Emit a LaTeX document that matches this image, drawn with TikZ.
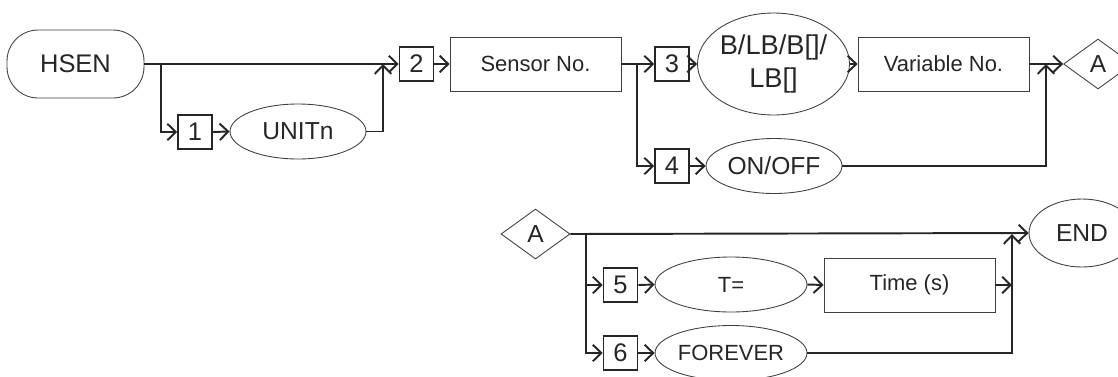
\documentclass[tikz,border=0pt]{standalone}
\usepackage{fontspec}
\setmainfont{Liberation Sans}
\usepackage{tikz}
\usetikzlibrary{arrows.meta,shapes.geometric}

\begin{document}
\begin{tikzpicture}[
    x=0.02cm, y=-0.02cm,
    line/.style={line width=1.1pt, draw=black!85},
    numbox/.style={draw=black!85, line width=0.9pt, minimum width=0.68cm, minimum height=0.68cm, inner sep=0pt, font=\fontsize{14.5}{16}\selectfont},
    pbox/.style={draw=black!75, line width=0.5pt, minimum width=3.42cm, minimum height=1.08cm, inner sep=0pt, font=\fontsize{12.5}{14}\selectfont},
    oval/.style={draw=black!75, line width=0.5pt, ellipse, minimum width=2.72cm, minimum height=1.1cm, inner sep=0pt, font=\fontsize{14}{16}\selectfont},
    conn/.style={diamond, draw=black!75, line width=0.5pt, minimum width=1.38cm, minimum height=1.0cm, aspect=1.4, inner sep=0pt, font=\fontsize{14}{16}\selectfont},
    >={Straight Barb[length=1.7mm, width=3.3mm]}
  ]
  \useasboundingbox (0,0) rectangle (1118,376);
  \clip (0,0) rectangle (1118,376);
  \color{black!85}

  % first row
  \node[draw=black!75, line width=0.5pt, rounded corners=0.62cm, minimum width=2.74cm, minimum height=1.36cm,
        inner sep=0pt, font=\fontsize{14.5}{16}\selectfont] (hsen) at (75.5,64) {HSEN};
  \node[numbox] (one) at (195,132) {1};
  \node[oval] (unitn) at (298,131.5) {UNITn};
  \node[numbox] (two) at (416.5,64) {2};
  \node[pbox] (sensor) at (535.5,64) {Sensor No.};
  \node[numbox] (three) at (672,64) {3};
  \node[numbox] (four) at (672,166) {4};
  \node[oval, minimum width=2.74cm, minimum height=2.04cm, align=center,
        font=\fontsize{15.5}{19}\selectfont] (bits) at (773.5,64) {B/LB/B[]/\\LB[]};
  \node[oval] (onoff) at (774,166) {ON/OFF};
  \node[pbox] (varno) at (943.5,64) {Variable No.};
  \node[conn] (aout) at (1098,64) {A};

  \coordinate (j1) at (161,64);
  \coordinate (j2) at (383,64);
  \coordinate (j3) at (637,64);
  \coordinate (j4) at (1046,64);

  \draw[line, ->] (hsen.east) -- (two.west);
  \draw[line, ->] (j1) |- (one.west);
  \draw[line, ->] (one.east) -- (unitn.west);
  \draw[line, ->] (unitn.east) -| (j2);
  \draw[line, ->] (two.east) -- (sensor.west);
  \draw[line, ->] (sensor.east) -- (three.west);
  \draw[line, ->] (j3) |- (four.west);
  \draw[line, ->] (three.east) -- (bits.west);
  \draw[line, ->] (four.east) -- (onoff.west);
  \draw[line, ->] (bits.east) -- (varno.west);
  \draw[line, ->] (varno.east) -- (aout.west);
  \draw[line, ->] (onoff.east) -| (j4);

  % second row
  \node[conn] (ain) at (535.5,234) {A};
  \node[oval, minimum width=2.12cm, minimum height=1.36cm] (end) at (1082,233) {END};
  \node[numbox] (five) at (620.5,285) {5};
  \node[numbox] (six) at (620.5,353) {6};
  \node[oval, minimum width=3.04cm, font=\fontsize{12.5}{14}\selectfont] (teq) at (731,284.5) {T=};
  \node[oval, minimum width=3.04cm, font=\fontsize{12.5}{14}\selectfont] (forever) at (731,353) {FOREVER};
  \node[pbox] (time) at (909.5,285) {Time (s)};

  \coordinate (j5) at (586,234);
  \coordinate (j6) at (1012,234);

  \draw[line, ->] (ain.east) -- (end.west);
  \draw[line, ->] (j5) |- (five.west);
  \draw[line, ->] (j5) |- (six.west);
  \draw[line, ->] (five.east) -- (teq.west);
  \draw[line, ->] (six.east) -- (forever.west);
  \draw[line, ->] (teq.east) -- (time.west);
  \draw[line, ->] (time.east) -- (time.east -| j6);
  \draw[line, ->] (forever.east) -| (j6);
\end{tikzpicture}
\end{document}
